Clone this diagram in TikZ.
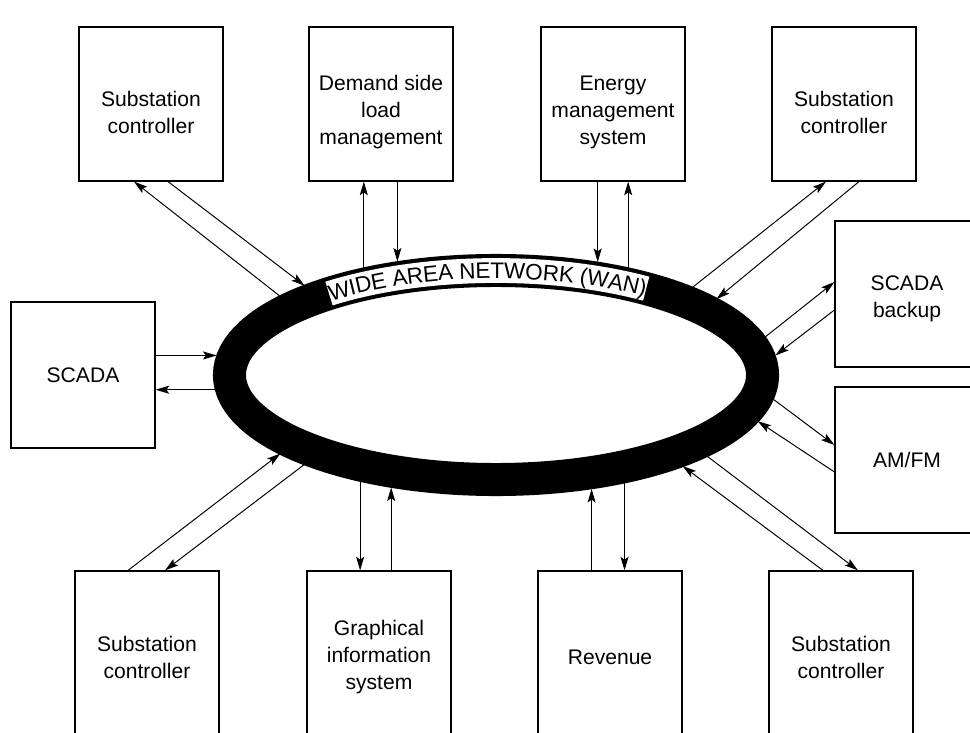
\documentclass[tikz,border=0pt]{standalone}
\usepackage{fontspec}
\setmainfont{Liberation Sans}
\usetikzlibrary{arrows.meta, shapes.geometric, decorations.text, calc}
\tikzset{
  every picture/.style={line width=0.8pt},
  box/.style={draw, fill=white, align=center, inner sep=4pt, minimum width=3.6cm, minimum height=#1, font=\fontsize{15}{19.2}\selectfont},
  box/.default=3.85cm,
  arrow/.style={-{Stealth[length=3.4mm, width=2mm, inset=0.7mm]}, line width=0.7pt},
  ring/.style={draw, ellipse, line width=0.825cm, minimum width=13.325cm, minimum height=5.225cm, inner sep=0pt, outer sep=0.4125cm},
}
\begin{document}
\begin{tikzpicture}[x=0.025cm, y=0.025cm]
  \useasboundingbox (0,0) rectangle (970,732);
  \clip (0,0) rectangle (970,732);
  % boxes
  \foreach \n/\x/\h/\t in {sc1/151/42.2/{Substation\\controller}, dslm/381/60.6/{Demand side\\load\\management},
                           ems/613/60.6/{Energy\\management\\system}, sc2/844/42.2/{Substation\\controller}}
    \node[box, text height=\h pt] (\n) at (\x,628) {\t};
  \foreach \n/\x/\t in {sc3/147/{Substation\\controller}, gis/379/{Graphical\\information\\system},
                        rev/610/{Revenue}, sc4/841/{Substation\\controller}}
    \node[box=4.3cm] (\n) at (\x,75) {\t};
  \node[box=3.65cm] (scada) at (83,357) {SCADA};
  \node[box=3.65cm, text height=36.5pt] (backup) at (907,438) {SCADA\\backup};
  \node[box=3.65cm] (amfm) at (907,272) {AM/FM};
  % the network ring
  \node[ring] (wan) at (496,357) {};
  \draw[white, line width=0.62cm] (wan.center) ++(128.8:266.5 and 104.5)
    arc[start angle=128.8, end angle=55.7, x radius=266.5, y radius=104.5];
  \path[decorate, decoration={text along path, text align=center, raise=-5.7pt,
      text={|\fontsize{16}{16}\selectfont|WIDE AREA NETWORK (WAN)}}]
    (wan.center) ++(128.8:266.5 and 104.5)
    arc[start angle=128.8, end angle=55.7, x radius=266.5, y radius=104.5];
  % top row links
  \draw[arrow] ($(sc1.south)+(17,0)$) -- (wan.155.6);
  \draw[arrow] (wan.160.5) -- ($(sc1.south)+(-17,0)$);
  \draw[arrow] (wan.141) -- (wan.141 |- dslm.south);
  \draw[arrow] (dslm.south -| wan.131.1) -- (wan.131.1);
  \draw[arrow] (ems.south -| wan.48.9) -- (wan.48.9);
  \draw[arrow] (wan.39) -- (wan.39 |- ems.south);
  \draw[arrow] ($(sc2.south)+(15,0)$) -- (wan.19.5);
  \draw[arrow] (wan.24.8) -- ($(sc2.south)+(-18,0)$);
  % right side links
  \draw[arrow] (wan.8.4) -- ($(backup.west)+(0,12)$);
  \draw[arrow] ($(backup.west)+(0,-16)$) -- (wan.4.2);
  \draw[arrow] (wan.355.2) -- ($(amfm.west)+(0,15)$);
  \draw[arrow] ($(amfm.west)+(0,-12)$) -- (wan.350.4);
  % bottom row links
  \draw[arrow] ($(sc4.north)+(-18,0)$) -- (wan.334.6);
  \draw[arrow] (wan.339.7) -- ($(sc4.north)+(17,0)$);
  \draw[arrow] (rev.north -| wan.310.5) -- (wan.310.5);
  \draw[arrow] (wan.320.1) -- (wan.320.1 |- rev.north);
  \draw[arrow] (wan.218.5) -- (wan.218.5 |- gis.north);
  \draw[arrow] (gis.north -| wan.227.6) -- (wan.227.6);
  \draw[arrow] ($(sc3.north)+(-19,0)$) -- (wan.200);
  \draw[arrow] (wan.205.1) -- ($(sc3.north)+(18,0)$);
  % left side links
  \draw[arrow] (wan.176.9 -| scada.east) -- (wan.176.9);
  \draw[arrow] (wan.183.5) -- (wan.183.5 -| scada.east);
\end{tikzpicture}
\end{document}
